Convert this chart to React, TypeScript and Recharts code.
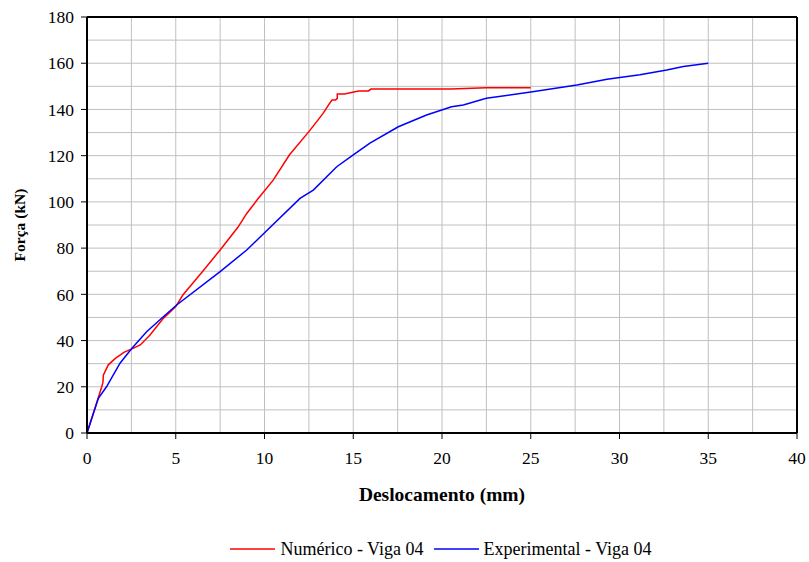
import React from 'react';
import {
  LineChart,
  Line,
  XAxis,
  YAxis,
  CartesianGrid,
  ReferenceLine,
  Legend,
  Label,
} from 'recharts';

// Numérico - Viga 04: deslocamento (mm) / força (kN)
const numX = [0, 0.5, 0.83, 0.9, 0.92, 1.2, 1.6, 2.1, 2.5, 3.0, 3.55, 4.3, 5.0, 5.4, 6.5, 7.5, 8.5, 9.0, 9.6, 10.5, 11.4, 12.5, 13.03, 13.3, 13.6, 13.8, 14.0, 14.1, 14.1, 14.5, 15.3, 15.85, 16.0, 20.5, 22.5, 25.0];
const numY = [0, 12, 20, 22, 25, 29.5, 32.3, 35, 36.3, 38.1, 42.4, 49.6, 54.7, 59.7, 69.8, 79.2, 89, 95, 101, 109.5, 120.3, 130.4, 135.6, 138.3, 141.9, 144.1, 144.1, 144.8, 146.7, 146.7, 148, 148, 148.8, 148.8, 149.4, 149.4];

// Experimental - Viga 04
const expX = [0, 0.64, 1.1, 1.86, 2.52, 3.36, 4.3, 5.05, 7.5, 9.0, 12.0, 12.75, 14.07, 15.0, 15.94, 17.54, 19.13, 20.54, 21.2, 22.5, 25.1, 27.6, 29.3, 31.15, 32.66, 33.6, 35.0];
const expY = [0, 15, 20, 30.2, 36.6, 43.8, 50.3, 55.4, 69.8, 79.2, 101.5, 105.1, 115.2, 120.3, 125.4, 132.5, 137.6, 141.2, 141.9, 144.8, 147.7, 150.6, 153.1, 155, 157.1, 158.6, 160];

const xTicks = [0, 5, 10, 15, 20, 25, 30, 35, 40];
const yTicks = [0, 20, 40, 60, 80, 100, 120, 140, 160, 180];
const xGrid = [2.5, 5, 7.5, 10, 12.5, 15, 17.5, 20, 22.5, 25, 27.5, 30, 32.5, 35, 37.5];
const yGrid = [10, 20, 30, 40, 50, 60, 70, 80, 90, 100, 110, 120, 130, 140, 150, 160, 170];

const seriesNames = ['Numérico - Viga 04', 'Experimental - Viga 04'];
const seriesColors = ['#ff0000', '#0000ff'];

const numData = numX.map((x, i) => ({ x, y: numY[i] }));
const expData = expX.map((x, i) => ({ x, y: expY[i] }));

const FONT = 'Liberation Serif, DejaVu Serif, serif';

const tickStyle = { fill: '#000', fontFamily: FONT, fontSize: 17.5 };
const xLabelStyle = { fill: '#000', fontFamily: FONT, fontSize: 19.5, fontWeight: 'bold' as const };
const yLabelStyle = { fill: '#000', fontFamily: FONT, fontSize: 15.5, fontWeight: 'bold' as const, textAnchor: 'middle' as const };

const LegendContent = () => (
  <div
    style={{
      display: 'flex',
      justifyContent: 'center',
      alignItems: 'center',
      fontFamily: FONT,
      fontSize: 18,
      lineHeight: '20px',
      color: '#000',
      paddingLeft: 73,
    }}
  >
    {seriesNames.map((name, i) => (
      <div key={name} style={{ display: 'flex', alignItems: 'center', marginRight: i === 0 ? 10 : 0 }}>
        <svg width={45} height={4} style={{ marginRight: 5 }}>
          <line x1={0} y1={2} x2={45} y2={2} stroke={seriesColors[i]} strokeWidth={1.5} />
        </svg>
        <span>{name}</span>
      </div>
    ))}
  </div>
);

export default function App() {
  return (
    <div style={{ position: 'absolute', left: 0, top: 0, width: 809, height: 562, background: '#fff', fontFamily: FONT }}>
      <LineChart
        width={809}
        height={562}
        margin={{ top: 17, right: 12, left: 0, bottom: 0 }}
      >
        <CartesianGrid
          stroke="#c0c0c0"
          strokeWidth={1}
          verticalValues={xGrid}
          horizontalValues={yGrid}
        />
        <XAxis
          type="number"
          dataKey="x"
          domain={[0, 40]}
          ticks={xTicks}
          allowDataOverflow
          height={129}
          axisLine={{ stroke: '#000', strokeWidth: 2 }}
          tickLine={{ stroke: '#000', strokeWidth: 1 }}
          tickSize={6}
          tickMargin={13}
          tick={tickStyle}
        >
          <Label value="Deslocamento (mm)" position="insideTop" offset={54.5} style={xLabelStyle} />
        </XAxis>
        <YAxis
          type="number"
          dataKey="y"
          domain={[0, 180]}
          ticks={yTicks}
          allowDataOverflow
          width={87}
          axisLine={{ stroke: '#000', strokeWidth: 2 }}
          tickLine={{ stroke: '#000', strokeWidth: 1 }}
          tickSize={6}
          tickMargin={7}
          tick={tickStyle}
        >
          <Label value="Força (kN)" angle={-90} position="insideLeft" offset={19} style={yLabelStyle} />
        </YAxis>
        <ReferenceLine y={180} stroke="#000" strokeWidth={2} />
        <ReferenceLine x={40} stroke="#000" strokeWidth={2} />
        <Line
          data={numData}
          dataKey="y"
          type="linear"
          stroke={seriesColors[0]}
          strokeWidth={1.5}
          dot={false}
          isAnimationActive={false}
          name={seriesNames[0]}
        />
        <Line
          data={expData}
          dataKey="y"
          type="linear"
          stroke={seriesColors[1]}
          strokeWidth={1.5}
          dot={false}
          isAnimationActive={false}
          name={seriesNames[1]}
        />
        <Legend
          verticalAlign="middle"
          content={<LegendContent />}
          wrapperStyle={{ top: 539, left: 0, width: 809 }}
        />
      </LineChart>
    </div>
  );
}
